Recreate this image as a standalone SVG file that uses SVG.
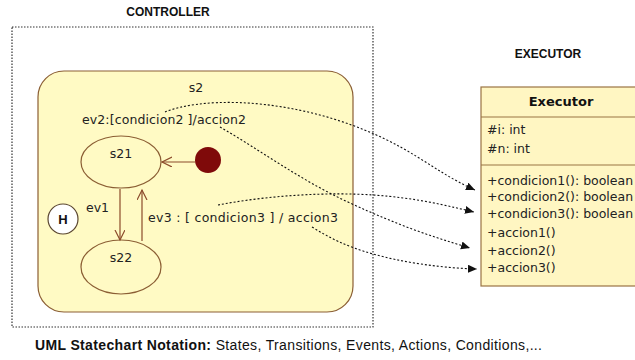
<svg xmlns="http://www.w3.org/2000/svg" width="635" height="360" viewBox="0 0 635 360">
<defs>
<style>
.t{font-family:"DejaVu Sans",Verdana,sans-serif;font-size:12.5px;fill:#222}
.m{font-family:"DejaVu Sans",Verdana,sans-serif;font-size:12.5px;fill:#222}
.title{font-family:"Liberation Sans",Arial,sans-serif;font-weight:bold;font-size:12px;fill:#111}
.cap{font-family:"Liberation Sans",Arial,sans-serif;font-size:14px;fill:#111}
.state{fill:#FFFAC4;stroke:#8B5E34;stroke-width:1.2}
.tr{fill:none;stroke:#8B4A2B;stroke-width:1.2}
.dep{fill:none;stroke:#111;stroke-width:1.1;stroke-dasharray:2,2}
.frame{fill:none;stroke:#333;stroke-width:1.2;stroke-dasharray:1.5,1.5}
.cls{fill:#FFF6C2;stroke:#9A7443;stroke-width:1.2}
</style>
<marker id="open" markerWidth="12" markerHeight="12" refX="10" refY="5" orient="auto" markerUnits="userSpaceOnUse">
<path d="M0,0 L10,5 L0,10" fill="none" stroke="#8B4A2B" stroke-width="1.2"/>
</marker>
<marker id="fill" markerWidth="10" markerHeight="10" refX="9" refY="4" orient="auto" markerUnits="userSpaceOnUse">
<path d="M0,0 L9,4 L0,8 Z" fill="#111"/>
</marker>
</defs>
<rect width="635" height="360" fill="#fff"/>

<text class="title" x="168" y="16" text-anchor="middle">CONTROLLER</text>
<text class="title" x="548" y="58" text-anchor="middle">EXECUTOR</text>

<rect class="frame" x="12" y="27" width="361" height="300"/>

<g id="s2">
<rect class="state" x="38" y="71" width="315" height="241" rx="26" ry="26"/>
<text class="t" x="196" y="92" text-anchor="middle">s2</text>
</g>

<g id="s21">
<ellipse class="state" cx="121" cy="162" rx="40" ry="26"/>
<text class="t" x="121" y="158" text-anchor="middle">s21</text>
</g>

<g id="s22">
<ellipse class="state" cx="121" cy="267" rx="40" ry="27"/>
<text class="t" x="121" y="262" text-anchor="middle">s22</text>
</g>

<g id="initial">
<circle cx="208" cy="160" r="13" fill="#7F0A0A"/>
</g>

<g id="history">
<circle cx="63" cy="219" r="15" fill="#fff" stroke="#5A4630" stroke-width="1.2"/>
<text x="63" y="224" text-anchor="middle" font-family="Liberation Sans, Arial, sans-serif" font-weight="bold" font-size="13" fill="#111">H</text>
</g>

<g id="executor">
<rect class="cls" x="481" y="87" width="160" height="199"/>
<line x1="481" y1="117" x2="641" y2="117" stroke="#9A7443" stroke-width="1.2"/>
<line x1="481" y1="165" x2="641" y2="165" stroke="#9A7443" stroke-width="1.2"/>
<text x="561" y="106" text-anchor="middle" font-family="DejaVu Sans, Verdana, sans-serif" font-weight="bold" font-size="13" fill="#111">Executor</text>
<text class="m" x="487" y="134">#i: int</text>
<text class="m" x="487" y="153">#n: int</text>
<text class="m" x="487" y="185">+condicion1(): boolean</text>
<text class="m" x="487" y="201">+condicion2(): boolean</text>
<text class="m" x="487" y="218">+condicion3(): boolean</text>
<text class="m" x="487" y="237">+accion1()</text>
<text class="m" x="487" y="255">+accion2()</text>
<text class="m" x="487" y="272">+accion3()</text>
</g>

<g id="labels">
<text class="t" x="82" y="124" textLength="164">ev2:[condicion2 ]/accion2</text>
<text class="t" x="86" y="212">ev1</text>
<text class="t" x="148" y="222" textLength="190">ev3 : [ condicion3 ] / accion3</text>
</g>

<g id="connectors">
<line class="tr" x1="195" y1="162" x2="162" y2="162" marker-end="url(#open)"/>
<line class="tr" x1="120" y1="189" x2="120" y2="240" marker-end="url(#open)"/>
<line class="tr" x1="142" y1="241" x2="142" y2="190" marker-end="url(#open)"/>
<path class="dep" d="M165,112 C200,98 270,98 340,121 S430,170 475,190" marker-end="url(#fill)"/>
<path class="dep" d="M220,127 C260,150 300,180 350,203 S430,236 470,248" marker-end="url(#fill)"/>
<path class="dep" d="M218,205 C270,195 330,192 373,195 S440,204 474,212" marker-end="url(#fill)"/>
<path class="dep" d="M312,227 C330,238 345,246 373,254 S440,268 477,269" marker-end="url(#fill)"/>
</g>

<text class="cap" x="35" y="350" textLength="507"><tspan font-weight="bold">UML Statechart Notation:</tspan> States, Transitions, Events, Actions, Conditions,...</text>
</svg>
